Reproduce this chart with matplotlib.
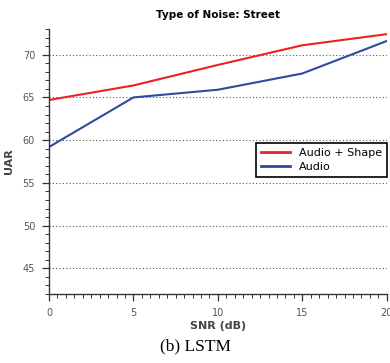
import matplotlib
matplotlib.use("Agg")
import matplotlib.pyplot as plt
from matplotlib.ticker import MultipleLocator

snr = [0, 5, 10, 15, 20]
audio_shape = [64.7, 66.4, 68.8, 71.1, 72.4]
audio = [59.2, 65.0, 65.9, 67.8, 71.6]

fig = plt.figure(figsize=(3.9, 3.63), dpi=100)
ax = fig.add_axes([0.1256, 0.19, 0.866, 0.73])

ax.plot(snr, audio_shape, color="#ee2024", lw=1.5, label="Audio + Shape")
ax.plot(snr, audio, color="#2f4a9f", lw=1.5, label="Audio")

ax.set_xlim(0, 20)
ax.set_ylim(42, 73)
ax.xaxis.set_major_locator(MultipleLocator(5))
ax.xaxis.set_minor_locator(MultipleLocator(0.5))
ax.yaxis.set_major_locator(MultipleLocator(5))
ax.yaxis.set_minor_locator(MultipleLocator(1))
ax.yaxis.grid(True, which="major", ls=(0, (1, 2)), color="#555555", lw=0.8)
ax.set_axisbelow(True)

ax.spines[["top", "right"]].set_visible(False)
for s in ("left", "bottom"):
    ax.spines[s].set_color("#333333")
    ax.spines[s].set_linewidth(1.0)
ax.tick_params(which="major", length=5, width=0.9, color="#333333",
               labelsize=7, labelcolor="#555555", pad=5)
ax.tick_params(which="minor", length=3, width=0.7, color="#333333")

ax.set_title("Type of Noise: Street", fontsize=7.5, fontweight="bold", pad=8)
ax.set_xlabel("SNR (dB)", fontsize=8, fontweight="bold", color="#444444",
              labelpad=2)
ax.set_ylabel("UAR", fontsize=8, fontweight="bold", color="#444444",
              labelpad=6)

leg = ax.legend(loc="upper right", bbox_to_anchor=(1.0, 0.57), fontsize=8,
                fancybox=False, framealpha=1, edgecolor="black",
                handlelength=2.6, borderpad=0.45, labelspacing=0.35,
                borderaxespad=0)
leg.get_frame().set_linewidth(1.2)
for line in leg.get_lines():
    line.set_linewidth(2)

fig.text(0.5, 0.045, "(b) LSTM", ha="center", va="center",
         family="Liberation Serif", fontsize=12.5)

fig.savefig("out.png", dpi=100)
